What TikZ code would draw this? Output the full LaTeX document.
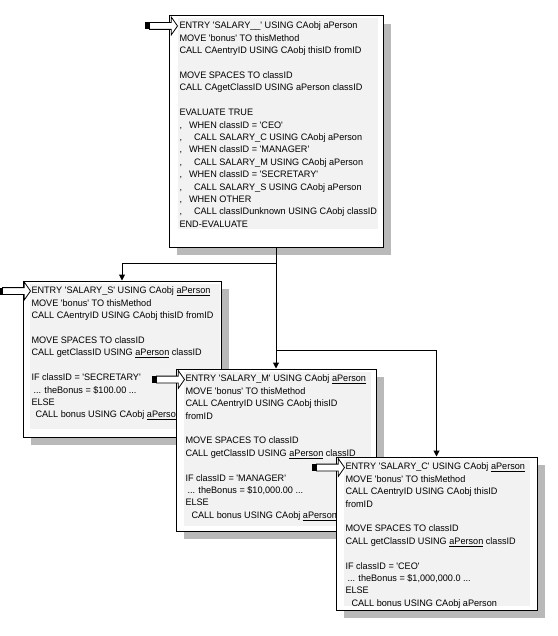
\documentclass[tikz,border=0pt]{standalone}
\usepackage{fontspec}
\newfontfamily\boxfont{Liberation Sans}[FakeStretch=0.97]
\usetikzlibrary{shapes.arrows, shadows, arrows.meta}

\tikzset{
  box/.style={draw, fill=white, line width=1pt, inner sep=0pt,
    drop shadow={shadow xshift=8pt, shadow yshift=-8pt, fill=gray!55, opacity=1}},
  panel/.style={anchor=north west, fill=gray!10, inner sep=0pt},
  code/.style={anchor=north west, inner xsep=2pt, inner ysep=3.5pt,
    align=left, font=\boxfont\fontsize{9.4}{12.4}\selectfont},
  entry/.style={single arrow, draw, fill=white, line width=0.8pt, anchor=tip,
    minimum height=28pt, inner sep=3pt, single arrow head extend=5.5pt,
    single arrow tip angle=110},
  plug/.style={fill=black, minimum width=3.5pt, minimum height=7pt, inner sep=0pt, anchor=east},
}

\begin{document}
\begin{tikzpicture}[x=1pt, y=-1pt, >={Triangle[length=6pt, width=6pt]}, line width=1pt]
    \useasboundingbox (0,0) rectangle (557,636);

    % dispatcher
    \node[box, minimum width=214pt, minimum height=231pt] (top) at (276,131.5) {};
    \node[panel, minimum width=200pt, minimum height=210pt] (panTop) at (177,18) {};
    \node[code] (txtTop) at (panTop.north west) {%
      ENTRY 'SALARY\_\_' USING CAobj aPerson\\
      MOVE 'bonus' TO thisMethod\\
      CALL CAentryID USING CAobj thisID fromID\\[\baselineskip]
      MOVE SPACES TO classID\\
      CALL CAgetClassID USING aPerson classID\\[\baselineskip]
      EVALUATE TRUE\\
      ,\hspace*{7pt}WHEN classID = 'CEO'\\
      ,\hspace*{12pt}CALL SALARY\_C USING CAobj aPerson\\
      ,\hspace*{7pt}WHEN classID = 'MANAGER'\\
      ,\hspace*{12pt}CALL SALARY\_M USING CAobj aPerson\\
      ,\hspace*{7pt}WHEN classID = 'SECRETARY'\\
      ,\hspace*{12pt}CALL SALARY\_S USING CAobj aPerson\\
      ,\hspace*{7pt}WHEN OTHER\\
      ,\hspace*{12pt}CALL classIDunknown USING CAobj classID\\
      END-EVALUATE};
    \node[entry] (arrTop) at ([shift={(1,8)}]panTop.north west) {};
    \node[plug] (plugTop) at (arrTop.tail) {};

    % secretary
    \node[box, minimum width=198pt, minimum height=156pt] (S) at (122,359) {};
    \node[panel, minimum width=190pt, minimum height=145pt] (panS) at (29,283) {};
    \node[code] (txtS) at (panS.north west) {%
      ENTRY 'SALARY\_S' USING CAobj \underline{aPerson}\\
      MOVE 'bonus' TO thisMethod\\
      CALL CAentryID USING CAobj thisID fromID\\[\baselineskip]
      MOVE SPACES TO classID\\
      CALL getClassID USING \underline{aPerson} classID\\[\baselineskip]
      IF classID = 'SECRETARY'\\
      \hspace*{2pt}... theBonus = \$100.00 ...\\
      ELSE\\
      \hspace*{4pt}CALL bonus USING CAobj \underline{aPerson}};
    \node[entry] (arrS) at ([shift={(2,8)}]panS.north west) {};
    \node[plug] (plugS) at (arrS.tail) {};

    % manager
    \node[box, minimum width=200pt, minimum height=162pt] (M) at (276,450) {};
    \node[panel, minimum width=187pt, minimum height=154pt] (panM) at (183,371) {};
    \node[code] (txtM) at (panM.north west) {%
      ENTRY 'SALARY\_M' USING CAobj \underline{aPerson}\\
      MOVE 'bonus' TO thisMethod\\
      CALL CAentryID USING CAobj thisID\\
      fromID\\[\baselineskip]
      MOVE SPACES TO classID\\
      CALL getClassID USING \underline{aPerson} classID\\[\baselineskip]
      IF classID = 'MANAGER'\\
      \hspace*{2pt}... theBonus = \$10,000.00 ...\\
      ELSE\\
      \hspace*{6pt}CALL bonus USING CAobj \underline{aPerson}};
    \node[entry] (arrM) at ([shift={(2,8.5)}]panM.north west) {};
    \node[plug] (plugM) at (arrM.tail) {};

    % ceo
    \node[box, minimum width=201pt, minimum height=153pt] (C) at (436.5,533.5) {};
    \node[panel, minimum width=186pt, minimum height=146pt] (panC) at (343,459) {};
    \node[code] (txtC) at (panC.north west) {%
      ENTRY 'SALARY\_C' USING CAobj \underline{aPerson}\\
      MOVE 'bonus' TO thisMethod\\
      CALL CAentryID USING CAobj thisID\\
      fromID\\[\baselineskip]
      MOVE SPACES TO classID\\
      CALL getClassID USING \underline{aPerson} classID\\[\baselineskip]
      IF classID = 'CEO'\\
      \hspace*{2pt}... theBonus = \$1,000,000.0 ...\\
      ELSE\\
      \hspace*{6pt}CALL bonus USING CAobj aPerson};
    \node[entry] (arrC) at ([shift={(2,8.5)}]panC.north west) {};
    \node[plug] (plugC) at (arrC.tail) {};

    % calls
    \coordinate (forkS) at (276,263);
    \coordinate (forkC) at (276,350);
    \draw[->] (top.south) -- (M.north);
    \draw[->] (forkS) -| (S.north);
    \draw[->] (forkC) -| (C.north);
\end{tikzpicture}
\end{document}
